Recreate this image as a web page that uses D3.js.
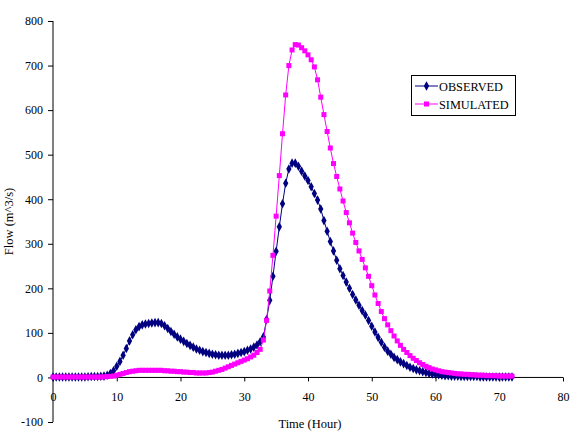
<!DOCTYPE html>
<html><head><meta charset="utf-8">
<script src="https://cdn.jsdelivr.net/npm/d3@7"></script>
<style>body{margin:0;background:#fff}svg{display:block}</style>
</head><body>
<svg id="c" width="572" height="440"></svg>
<script>
const xTicks = [0,10,20,30,40,50,60,70,80];
const yTicks = [-100,0,100,200,300,400,500,600,700,800];
const seriesNames = ["OBSERVED","SIMULATED"];
// time in hours, 0.5 h steps from 0 to 72
const time = d3.range(0, 72.5, 0.5);
const observed = [
 1,1,1,1,1,1,1,1,1,1,1,1.5,2,2,2,2.5,3, // 0-8
 5,9,15,25,36,50,65,82,96,107,114,118,120,121,122,123,123, // 8.5-16.5
 121,116,110,103,97,91,86,81,76,72,68,64,61,58,56,54,52, // 17-25
 51,50,50,50,50,51,52,54,56,58,61,64,68,73,80,91, // 25.5-33
 130,173,227,283,338,390,436,468,481,481,474,463,452,442,428,413,398, // 33.5-41.5
 378,352,328,305,284,263,244,229,214,200,186,174,162,150,140,128,115, // 42-50
 102,90,79,68,59,52,45,40,35,31,27,23,20,17,15,13,11, // 50.5-58.5
 9,8,7,6,5,4,4,3,3,3,2,2,2,2,2,2,1,1,1,1,1,1,1,1,1,1,1 // 59-72
];
const simulated = [
 1,1,1,1,1,1,1,1,1,1,1,1,1,1,1,1,1.5,2,2.5, // 0-9
 3,5,7,9,11,13,14,15,16,16,16,16,16,16,16,16,15, // 9.5-17.5
 15,14,14,13,13,12,12,11,11,10,10,10,10,11,12,14,16, // 18-26
 18,21,24,27,30,33,36,39,42,46,50,56,63,84, // 26.5-33
 128,194,274,362,453,547,634,700,735,747,746,740,733,724,713,697,668, // 33.5-41.5
 629,590,552,515,480,451,423,396,370,347,324,303,284,265,246,227,206, // 42-50
 185,166,148,132,118,105,93,82,72,63,56,49,43,38,33,29,25, // 50.5-58.5
 22,19,17,15,13,12,11,10,9,8,8,7,7,6,6,5,5,5,4,4,4,4,3,3,3,3,3 // 59-72
];

const FONT = "'Liberation Serif','Times New Roman',serif";
const svg = d3.select("#c").attr("font-family", FONT);
const x = d3.scaleLinear().domain([0,80]).range([53,563]);
const y = d3.scaleLinear().domain([-100,800]).range([422,21]);

// y axis
const yAxis = svg.append("g").attr("transform","translate(53,0)")
  .call(d3.axisLeft(y).tickValues(yTicks).tickSize(5).tickPadding(5).tickFormat(d=>String(d)));
yAxis.attr("font-family", FONT).attr("font-size", 12);
yAxis.select(".domain").attr("d","M0,"+y(-100)+"V"+y(800)).attr("stroke","#000");
yAxis.selectAll("text").attr("fill","#000");
// x axis along y=0
const xAxis = svg.append("g").attr("transform","translate(0,"+y(0)+")")
  .call(d3.axisBottom(x).tickValues(xTicks).tickSize(4).tickPadding(11).tickFormat(d=>String(d)));
xAxis.attr("font-family", FONT).attr("font-size", 12);
xAxis.select(".domain").attr("d","M"+x(0)+",0H"+x(80)).attr("stroke","#000");
xAxis.selectAll("text").attr("fill","#000");

svg.append("text").attr("x",310).attr("y",428).attr("text-anchor","middle")
  .attr("font-size",12.5).text("Time (Hour)");
svg.append("text").attr("transform","translate(13,"+((y(800)+y(-100))/2)+") rotate(-90)")
  .attr("text-anchor","middle").attr("font-size",12.5).text("Flow (m^3/s)");

const line = d3.line().x((d,i)=>x(time[i])).y(d=>y(d));
const colors = ["#000080","#FF00FF"];
const data = [observed, simulated];

[0,1].forEach(k=>{
  const g = svg.append("g");
  g.append("path").datum(data[k]).attr("d",line).attr("fill","none")
    .attr("stroke",colors[k]).attr("stroke-width",1);
  if(k===0){
    g.selectAll("path.m").data(data[k]).enter().append("path")
      .attr("d",d3.symbol().type(d3.symbolDiamond).size(20))
      .attr("transform",(d,i)=>"translate("+x(time[i])+","+y(d)+") scale(1.1,1.15)")
      .attr("fill",colors[k]);
  } else {
    g.selectAll("rect.m").data(data[k]).enter().append("rect")
      .attr("x",(d,i)=>x(time[i])-2.5).attr("y",d=>y(d)-2.5)
      .attr("width",5).attr("height",5).attr("fill",colors[k]);
  }
});

// legend
const lg = svg.append("g");
lg.append("rect").attr("x",411.5).attr("y",75.5).attr("width",104).attr("height",40)
  .attr("fill","#fff").attr("stroke","#000").attr("stroke-width",1);
seriesNames.forEach((n,k)=>{
  const yy = 86 + k*18;
  lg.append("line").attr("x1",415).attr("x2",438).attr("y1",yy).attr("y2",yy)
    .attr("stroke",colors[k]).attr("stroke-width",1);
  if(k===0){
    lg.append("path").attr("d",d3.symbol().type(d3.symbolDiamond).size(20))
      .attr("transform","translate(426.5,"+yy+") scale(1.1,1.15)").attr("fill",colors[k]);
  } else {
    lg.append("rect").attr("x",424).attr("y",yy-2.5).attr("width",5).attr("height",5).attr("fill",colors[k]);
  }
  lg.append("text").attr("x",439).attr("y",yy+4.5).attr("font-size",12.3).text(n);
});
</script>
</body></html>
